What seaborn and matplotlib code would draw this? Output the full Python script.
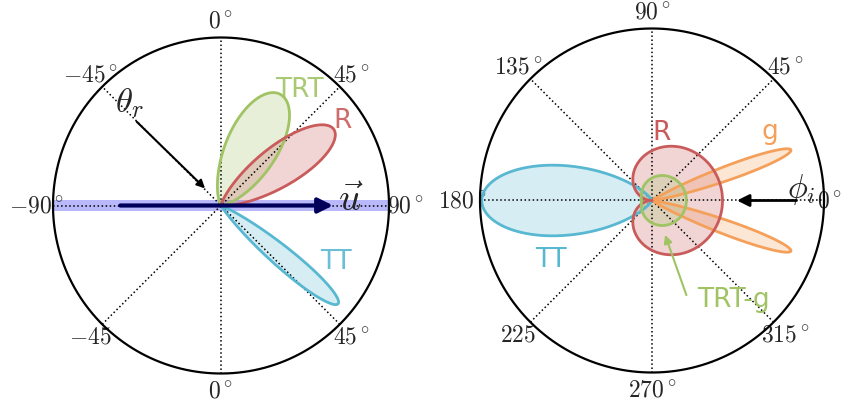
import numpy as np
import matplotlib.pyplot as plt
import seaborn as sns

sns.set_style("white")
plt.rcParams['mathtext.fontset'] = 'cm'
plt.rcParams['font.family'] = ['DejaVu Sans']

# left panel: longitudinal lobes, angle measured clockwise from the top
long_names = ['TRT', 'R', 'TT']
long_dirs = [28, 56, 130]           # lobe direction, degrees
long_peaks = [0.75, 0.81, 0.91]     # lobe length (circle radius = 1)
long_widths = [20, 14.5, 6.5]       # gaussian width, degrees
long_label_xy = [(0.47, 0.69), (0.726, 0.503), (0.685, -0.336)]
long_tick_angles = [0, 45, 90, 135, 180, 225, 270, 315]
long_tick_labels = [r'$0^\circ$', r'$45^\circ$', r'$90^\circ$', r'$45^\circ$',
                    r'$0^\circ$', r'$-45$', r'$-90^\circ$', r'$-45^\circ$']

# right panel: azimuthal lobes, angle counter-clockwise from the right
azi_names = ['TT', 'g', 'g']
azi_dirs = [180, 20, -20]
azi_peaks = [0.99, 0.86, 0.86]
azi_widths = [20, 4.6, 4.6]
r_peak = 0.41                       # R lobe: peak * |cos(phi/2)|
trtg_base, trtg_swing = 0.131, 0.069  # TRT-g lobe: base + swing*cos(phi)
azi_tick_angles = [0, 45, 90, 135, 180, 225, 270, 315]
azi_tick_labels = [r'$0^\circ$', r'$45^\circ$', r'$90^\circ$', r'$135^\circ$',
                   r'$180^\circ$', r'$225$', r'$270^\circ$', r'$315^\circ$']

colors = {'TRT': '#a0c364', 'R': '#c95b5b', 'TT': '#58b8d2',
          'g': '#f5a05a', 'TRT-g': '#a0c364'}


def gauss_lobe(direction, peak, width):
    phi = np.radians(np.linspace(direction - 90, direction + 90, 400))
    d = phi - np.radians(direction)
    r = peak * np.exp(-d ** 2 / (2 * np.radians(width) ** 2))
    return phi, r


def draw_lobe(ax, x, y, color):
    ax.fill(x, y, color=color, alpha=0.25, lw=0, zorder=2)
    sns.lineplot(x=x, y=y, sort=False, estimator=None, color=color,
                 lw=2, ax=ax, legend=False, zorder=4)


def draw_frame(ax):
    t = np.linspace(0, 2 * np.pi, 400)
    for a in [0, 45, 90, 135]:
        c, s = np.cos(np.radians(a)), np.sin(np.radians(a))
        ax.plot([-c, c], [-s, s], color='black', ls=':', lw=1.1, zorder=3)
    ax.plot(np.cos(t), np.sin(t), color='black', lw=1.6, zorder=5)


fig = plt.figure(figsize=(8.43, 4.08), dpi=100)

# ---- left panel
axl = fig.add_axes([0, 0, 421 / 843, 1])
axl.set_xlim(-221 / 168, 200 / 168)
axl.set_ylim(-202.5 / 168, 205.5 / 168)
axl.axis('off')

axl.fill_between([-1, 1], -0.03, 0.03, color='#b8b8fb', lw=0, zorder=1)
draw_frame(axl)
for name, dr, pk, w, (lx, ly) in zip(long_names, long_dirs, long_peaks,
                                      long_widths, long_label_xy):
    phi, r = gauss_lobe(dr, pk, w)
    x = np.append(r * np.sin(phi), 0)
    y = np.append(r * np.cos(phi), 0)
    draw_lobe(axl, x, y, colors[name])
    axl.text(lx, ly, name, color=colors[name], fontsize=19,
             ha='center', va='center', alpha=0.9)

axl.annotate('', xy=(0.667, 0), xytext=(-0.6, 0),
             arrowprops=dict(arrowstyle='-|>', color='#00005a', lw=3,
                             mutation_scale=22, shrinkA=0, shrinkB=0),
             zorder=6)
axl.text(0.77, 0.03, r'$\vec{u}$', fontsize=28, ha='center', va='center')
axl.annotate('', xy=(-0.095, 0.102), xytext=(-0.502, 0.499),
             arrowprops=dict(arrowstyle='-|>', color='black', lw=1.5,
                             mutation_scale=12, shrinkA=0, shrinkB=0),
             zorder=6)
axl.text(-0.542, 0.61, r'$\theta_r$', fontsize=25, ha='center', va='center')
for a, lab in zip(long_tick_angles, long_tick_labels):
    axl.text(1.1 * np.sin(np.radians(a)), 1.1 * np.cos(np.radians(a)), lab,
             fontsize=17, ha='center', va='center', zorder=1)

# ---- right panel
axr = fig.add_axes([421 / 843, 0, 422 / 843, 1])
axr.set_xlim(-231 / 172, 191 / 172)
axr.set_ylim(-207.5 / 172, 200.5 / 172)
axr.axis('off')
draw_frame(axr)

for name, dr, pk, w in zip(azi_names, azi_dirs, azi_peaks, azi_widths):
    phi, r = gauss_lobe(dr, pk, w)
    draw_lobe(axr, np.append(r * np.cos(phi), 0), np.append(r * np.sin(phi), 0),
              colors[name])

phi = np.linspace(-np.pi, np.pi, 400)
r = r_peak * np.abs(np.cos(phi / 2))
draw_lobe(axr, r * np.cos(phi), r * np.sin(phi), colors['R'])
r = trtg_base + trtg_swing * np.cos(phi)
draw_lobe(axr, r * np.cos(phi), r * np.sin(phi), colors['TRT-g'])

axr.text(0.058, 0.39, 'R', color=colors['R'], fontsize=19, ha='center', va='center')
axr.text(0.686, 0.40, 'g', color=colors['g'], fontsize=19, ha='center', va='center')
axr.text(-0.587, -0.346, 'TT', color=colors['TT'], fontsize=19, ha='center', va='center')
axr.text(0.471, -0.58, 'TRT-g', color=colors['TRT-g'], fontsize=19,
         ha='center', va='center')
axr.annotate('', xy=(0.076, -0.2), xytext=(0.2, -0.55),
             arrowprops=dict(arrowstyle='-|>', color=colors['TRT-g'], lw=1.5,
                             mutation_scale=12, shrinkA=0, shrinkB=0),
             zorder=6)
axr.annotate('', xy=(0.494, 0), xytext=(0.84, 0),
             arrowprops=dict(arrowstyle='-|>', color='black', lw=2,
                             mutation_scale=18, shrinkA=0, shrinkB=0),
             zorder=6)
axr.text(0.87, 0.065, r'$\phi_i$', fontsize=24, ha='center', va='center')
for a, lab in zip(azi_tick_angles, azi_tick_labels):
    x, y = 1.1 * np.cos(np.radians(a)), 1.1 * np.sin(np.radians(a))
    if a == 0:
        # keep the 0 label inside the right edge of the figure
        axr.text(190.5 / 172, y, lab, fontsize=17, ha='right', va='center', zorder=1)
    else:
        axr.text(x, y, lab, fontsize=17, ha='center', va='center', zorder=1)

fig.savefig('out.png', dpi=100)
